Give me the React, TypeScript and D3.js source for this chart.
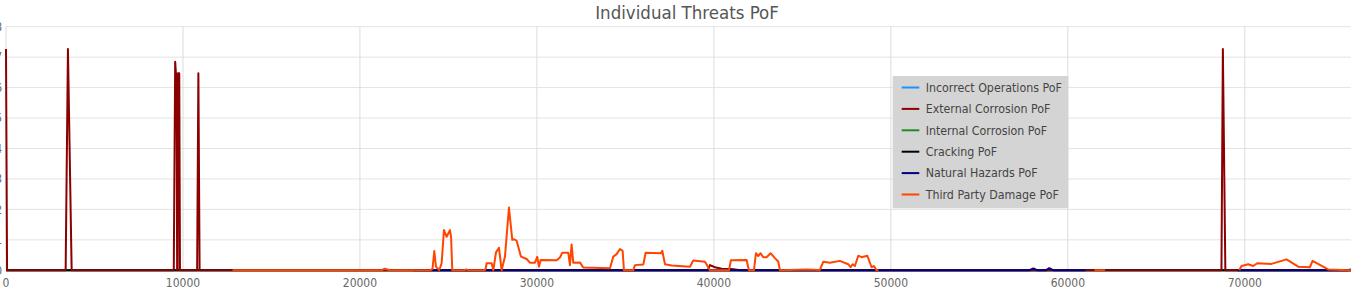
import React from "react";
import * as d3 from "d3";

type Pt = [number, number | null];

const title = "Individual Threats PoF";
const xTicks = [0, 10000, 20000, 30000, 40000, 50000, 60000, 70000];
const yTicks = [0, 1, 2, 3, 4, 5, 6, 7, 8];
const yTickLabels = ["0", "1", "2", "3", "4", "5", "6", "7", "8"];

const incorrectOperations: Pt[] = [[0, 0], [76000, 0]];
const internalCorrosion: Pt[] = [[0, 0], [76000, 0]];
const cracking: Pt[] = [[0, 0], [76000, 0]];

const externalCorrosion: Pt[] = [
  [0, 7.27], [60, 0], [3370, 0], [3500, 7.27], [3710, 0],
  [9480, 0], [9560, 6.85], [9600, 6.47], [9640, 6.47], [9670, 0], [9700, 0],
  [9730, 6.47], [9790, 6.47], [9830, 0],
  [10800, 0], [10870, 6.47], [10940, 0],
  [39650, 0], [39780, 0.17], [40060, 0.1], [40440, 0.05], [41000, 0.04], [41500, 0],
  [68680, 0], [68760, 7.27], [68900, 0], [76000, 0],
];

const naturalHazards: Pt[] = [
  [23000, 0], [57800, 0], [58050, 0.06], [58300, 0], [58750, 0], [58950, 0.07],
  [59200, 0], [61000, 0], [61100, null],
  [69600, 0], [75800, 0], [76000, 0.03],
];

const thirdPartyDamage: Pt[] = [
  [12800, 0], [21200, 0], [21400, 0.05], [21700, 0], [24000, 0], [24100, 0.05],
  [24200, 0.63], [24295, 0.12], [24480, 0.01], [24615, 0.23], [24747, 1.32],
  [24898, 1.1], [25086, 1.32], [25150, 1.1], [25217, 0], [25900, 0], [26000, 0.03],
  [26150, 0], [27050, 0], [27100, 0.05], [27160, 0.23], [27442, 0.23], [27535, 0],
  [27687, 0.59], [27856, 0.74], [28007, 0], [28195, 0.45], [28420, 2.06],
  [28608, 1.0], [28720, 1.02], [28853, 0.97], [29098, 0.45], [29419, 0.37],
  [29606, 0.25], [29889, 0.25], [30020, 0.44], [30115, 0.12], [30210, 0.34],
  [31114, 0.33], [31301, 0.42], [31432, 0.58], [31771, 0.58], [31866, 0.17],
  [31960, 0.85], [32054, 0.25], [32431, 0.26], [32619, 0.09], [34127, 0.07],
  [34316, 0.45], [34504, 0.53], [34692, 0.7], [34843, 0.64], [34918, 0],
  [35445, 0], [35541, 0.17], [36012, 0.19], [36144, 0.58], [37008, 0.56],
  [37084, 0.64], [37236, 0.2], [37613, 0.16], [38646, 0.12], [38834, 0.32],
  [39495, 0.28], [39778, 0], [40850, 0], [40963, 0.33], [41848, 0.34], [41980, 0],
  [42262, 0], [42375, 0.56], [42506, 0.47], [42638, 0.56], [42789, 0.43],
  [42977, 0.43], [43203, 0.56], [43448, 0.4], [43636, 0.29], [43731, 0],
  [45238, 0.03], [45991, 0.01], [46179, 0.28], [46556, 0.25], [47121, 0.31],
  [47592, 0.2], [47724, 0.1], [47837, 0.2], [47969, 0.14], [48157, 0.48],
  [48346, 0.43], [48666, 0.48], [48911, 0.1], [49041, 0.14], [49194, 0],
  [49300, 0], [49400, null], [61500, 0], [62100, 0], [62200, null],
  [69683, 0], [69815, 0.14], [70191, 0.2], [70474, 0.14], [70700, 0.23],
  [71511, 0.21], [72359, 0.36], [73015, 0.12], [73676, 0.1], [73827, 0.31],
  [74708, 0.03], [75838, 0], [76000, 0],
];

const seriesNames = [
  "Incorrect Operations PoF",
  "External Corrosion PoF",
  "Internal Corrosion PoF",
  "Cracking PoF",
  "Natural Hazards PoF",
  "Third Party Damage PoF",
];
const seriesColors = ["#1e90ff", "#8b0000", "#228b22", "#000000", "#000080", "#ff4500"];
const seriesData = [
  incorrectOperations,
  externalCorrosion,
  internalCorrosion,
  cracking,
  naturalHazards,
  thirdPartyDamage,
];
// painting order: flat series first, so dark red / navy / orange lie on top
const drawOrder = [0, 2, 3, 1, 4, 5];

const W = 1353;
const H = 296;
const FONT = "'DejaVu Sans Condensed', 'DejaVu Sans', sans-serif";

export default function App() {
  const left = 6, right = 1351, top = 26.7, bottom = 270.3;
  const x = d3.scaleLinear().domain([0, 76000]).range([left, right]);
  const y = d3.scaleLinear().domain([0, 8]).range([bottom, top]);
  const line = d3
    .line<Pt>()
    .defined((d) => d[1] !== null)
    .x((d) => x(d[0]))
    .y((d) => y(d[1] as number));

  const lgX = 892.7, lgY = 76, lgW = 175.6, lgH = 132.3;
  const rowY0 = 87.5, rowStep = 21.4;

  return (
    <div style={{ position: "absolute", left: 0, top: 0 }}>
      <svg width={W} height={H} style={{ display: "block", background: "#fff" }}>
        {yTicks.map((t) => (
          <line key={"hy" + t} x1={left} x2={right} y1={y(t)} y2={y(t)} stroke="#e3e3e3" strokeWidth={1} />
        ))}
        {xTicks.map((t) => (
          <line key={"vx" + t} x1={x(t)} x2={x(t)} y1={top} y2={bottom} stroke="#dcdcdc" strokeWidth={1} />
        ))}
        {yTicks.map((t, i) => (
          <text key={"yl" + t} x={2} y={y(t)} dy="0.35em" textAnchor="end" fontFamily={FONT} fontSize={12} fill="#666">
            {yTickLabels[i]}
          </text>
        ))}
        {xTicks.map((t) => (
          <text key={"xl" + t} x={x(t)} y={287} textAnchor="middle" fontFamily={FONT} fontSize={12} fill="#666">
            {t}
          </text>
        ))}
        {drawOrder.map((i) => (
          <path key={"s" + i} d={line(seriesData[i]) || ""} fill="none" stroke={seriesColors[i]} strokeWidth={2} strokeLinejoin="round" />
        ))}
        <text x={687} y={19} textAnchor="middle" fontFamily={FONT} fontSize={18.5} fill="#555">
          {title}
        </text>
        <rect x={lgX} y={lgY} width={lgW} height={lgH} fill="#d4d4d4" />
        {seriesNames.map((name, i) => (
          <g key={"lg" + i} transform={`translate(0, ${rowY0 + i * rowStep})`}>
            <line x1={901.7} x2={919.3} y1={0} y2={0} stroke={seriesColors[i]} strokeWidth={2} />
            <text x={925.7} y={0} dy="0.35em" fontFamily={FONT} fontSize={12.3} fill="#444">
              {name}
            </text>
          </g>
        ))}
      </svg>
    </div>
  );
}
